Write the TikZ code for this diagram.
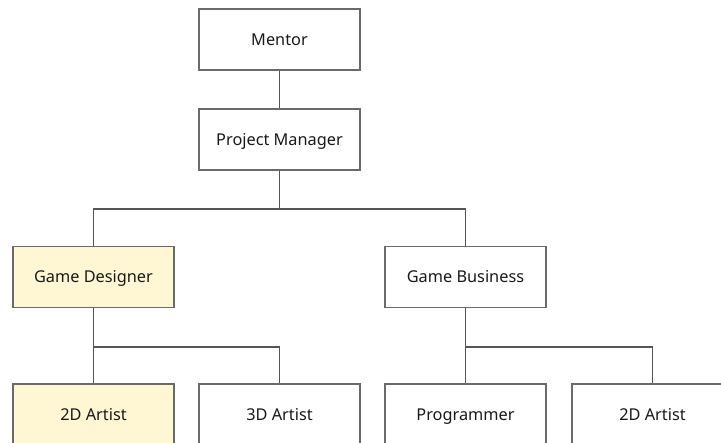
\documentclass[tikz,border=0pt]{standalone}
\usepackage{fontspec}
\setmainfont{Noto Sans}
\definecolor{boxline}{HTML}{6A6A6A}
\definecolor{conn}{HTML}{555555}
\definecolor{hl}{HTML}{FFF7D3}
\begin{document}
\begin{tikzpicture}[x=1pt,y=-1pt,
  role/.style={draw=boxline,line width=1.1pt,fill=white,minimum width=161pt,minimum height=61pt,inner sep=0pt,text height=13pt,text depth=1pt,font=\fontsize{16.3}{19}\selectfont,text=black!90},
  hilite/.style={role,fill=hl},
  link/.style={draw=conn,line width=1.1pt}]
\useasboundingbox (0,0) rectangle (721,443);
\clip (0,0) rectangle (721,443);
\node[role] (mentor) at (279.5,39.5) {Mentor};
\node[role] (pm) at (279.5,139.5) {Project Manager};
\node[hilite] (gd) at (93.5,277) {Game Designer};
\node[role] (gb) at (465.5,277) {Game Business};
\node[hilite,minimum height=62pt] (a2) at (93.5,415) {2D Artist};
\node[role,minimum height=62pt] (a3) at (279.5,415) {3D Artist};
\node[role,minimum height=62pt] (prog) at (465.5,415) {Programmer};
\node[role,minimum height=62pt] (a2b) at (652.5,415) {2D Artist};
\coordinate (b1) at (279.5,209);
\coordinate (b2) at (93.5,347);
\coordinate (b3) at (465.5,347);
\draw[link] (mentor.south) -- (pm.north);
\draw[link] (pm.south) -- (b1) -| (gd.north);
\draw[link] (b1) -| (gb.north);
\draw[link] (gd.south) -- (b2) -- (a2.north);
\draw[link] (b2) -| (a3.north);
\draw[link] (gb.south) -- (b3) -- (prog.north);
\draw[link] (b3) -| (a2b.north);
\end{tikzpicture}
\end{document}
